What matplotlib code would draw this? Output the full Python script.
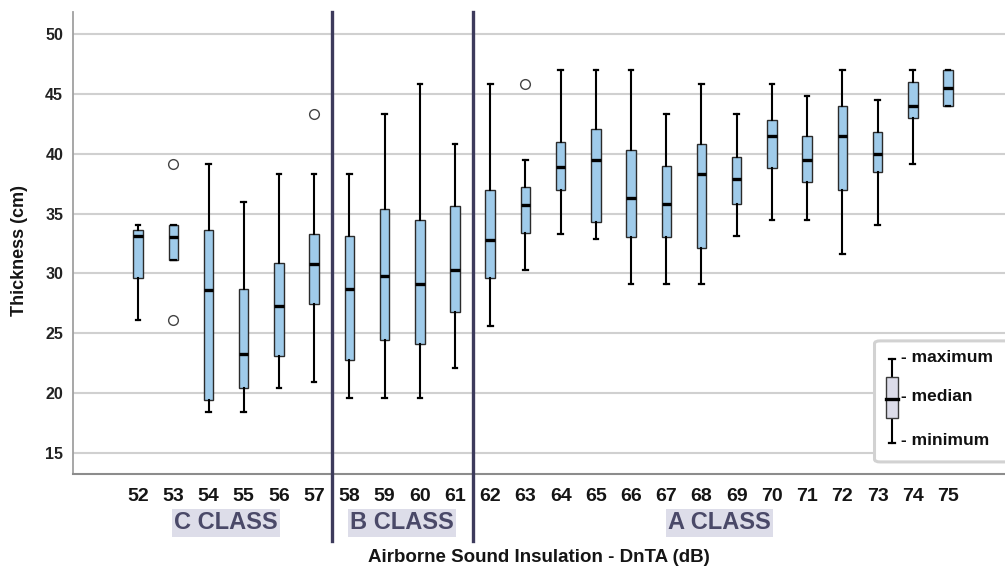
import matplotlib
matplotlib.use("Agg")
import matplotlib.pyplot as plt
from matplotlib.patches import Rectangle, FancyBboxPatch
from matplotlib.lines import Line2D

plt.rcParams['font.family'] = ['Liberation Sans', 'DejaVu Sans']

# --- data (thickness in cm per DnTA level) ---
levels = list(range(52, 76))
mins    = [26.1, 31.1, 18.4, 18.4, 20.4, 20.9, 19.6, 19.6, 19.6, 22.1, 25.6, 30.3,
           33.3, 32.9, 29.1, 29.1, 29.1, 33.1, 34.5, 34.5, 31.6, 34.0, 39.1, 44.0]
q1s     = [29.6, 31.1, 19.4, 20.4, 23.1, 27.4, 22.8, 24.4, 24.1, 26.8, 29.6, 33.4,
           37.0, 34.3, 33.0, 33.0, 32.1, 35.8, 38.8, 37.6, 37.0, 38.5, 43.0, 44.0]
medians = [33.1, 33.0, 28.6, 23.3, 27.3, 30.8, 28.7, 29.8, 29.1, 30.3, 32.8, 35.7,
           38.9, 39.5, 36.3, 35.8, 38.3, 37.9, 41.5, 39.5, 41.5, 40.0, 44.0, 45.5]
q3s     = [33.6, 34.0, 33.6, 28.7, 30.9, 33.3, 33.1, 35.4, 34.5, 35.6, 37.0, 37.2,
           41.0, 42.1, 40.3, 39.0, 40.8, 39.7, 42.8, 41.5, 44.0, 41.8, 46.0, 47.0]
maxs    = [34.0, 34.0, 39.1, 36.0, 38.3, 38.3, 38.3, 43.3, 45.8, 40.8, 45.8, 39.5,
           47.0, 47.0, 47.0, 43.3, 45.8, 43.3, 45.8, 44.8, 47.0, 44.5, 47.0, 47.0]
outliers = {53: [39.1, 26.1], 57: [43.3], 63: [45.8]}

class_names = ['C CLASS', 'B CLASS', 'A CLASS']
class_spans = [(52, 57), (58, 61), (62, 75)]
yticks = [15, 20, 25, 30, 35, 40, 45, 50]

box_blue = '#9fcbea'
sep_color = '#3d3b5c'

stats = []
for i, lv in enumerate(levels):
    stats.append({
        'med': medians[i], 'q1': q1s[i], 'q3': q3s[i],
        'whislo': mins[i], 'whishi': maxs[i],
        'fliers': outliers.get(lv, []),
    })

fig = plt.figure(figsize=(10.05, 5.71), dpi=100)
ax = fig.add_axes([0.0726, 0.170, 0.9274, 0.809])

ax.bxp(stats, positions=levels, widths=0.27, capwidths=0.13, patch_artist=True,
       boxprops=dict(facecolor=box_blue, edgecolor='#2b2b2b', linewidth=1.0),
       medianprops=dict(color='black', linewidth=2.4),
       whiskerprops=dict(color='black', linewidth=1.5),
       capprops=dict(color='black', linewidth=1.6),
       flierprops=dict(marker='o', markersize=7, markerfacecolor='white',
                       markeredgecolor='#444444', markeredgewidth=1.0),
       zorder=3)

ax.set_xlim(50.15, 76.62)
ax.set_ylim(13.24, 51.84)
ax.set_yticks(yticks)
ax.set_xticks(levels)
ax.set_xticklabels([str(v) for v in levels], fontsize=14, fontweight='bold',
                   color='#151515')
for lab in ax.get_yticklabels():
    lab.set_fontsize(11.5)
    lab.set_fontweight('bold')
    lab.set_color('#222222')
ax.tick_params(axis='both', length=0)
ax.tick_params(axis='x', pad=10)
ax.tick_params(axis='y', pad=7)

ax.yaxis.grid(True, color='#d0d0d0', linewidth=1.5)
ax.set_axisbelow(True)
for s in ['top', 'right']:
    ax.spines[s].set_visible(False)
ax.spines['left'].set_color('#a0a0a0')
ax.spines['bottom'].set_color('#8c8c8c')
ax.spines['left'].set_linewidth(1.3)
ax.spines['bottom'].set_linewidth(1.5)

# class separators (extend below the axis)
trans = ax.get_xaxis_transform()
for k in range(len(class_spans) - 1):
    xs = (class_spans[k][1] + class_spans[k + 1][0]) / 2
    ax.add_line(Line2D([xs, xs], [-0.145, 1.0], transform=trans, color=sep_color,
                       linewidth=2.4, clip_on=False, zorder=5))

# class labels
for name, (a, b) in zip(class_names, class_spans):
    ax.text((a + b) / 2, -0.106, name, transform=trans, ha='center', va='center',
            fontsize=17, fontweight='bold', color='#4a4968',
            bbox=dict(facecolor='#dddde9', edgecolor='none', pad=1.5))

ax.text(0.5, -0.18, 'Airborne Sound Insulation - DnTA (dB)', transform=ax.transAxes,
        ha='center', va='center', fontsize=13.5, fontweight='bold', color='#151515')
fig.text(20 / 1005, 1 - 250 / 571, 'Thickness (cm)', rotation=90,
         ha='center', va='center', fontsize=13, fontweight='bold', color='#151515')

# key box in the lower right corner
ax.add_patch(FancyBboxPatch((0.860, 0.026), 0.2, 0.262, transform=ax.transAxes,
                            boxstyle='round,pad=0.0,rounding_size=0.006',
                            facecolor='white', edgecolor='#d2d2d2', linewidth=2.2,
                            clip_on=False, zorder=6))
kx = 0.8787
ax.add_line(Line2D([kx, kx], [0.067, 0.249], transform=ax.transAxes, color='black',
                   linewidth=1.5, zorder=7))
for yy in [0.067, 0.249]:
    ax.add_line(Line2D([kx - 0.0035, kx + 0.0035], [yy, yy], transform=ax.transAxes,
                       color='black', linewidth=1.6, zorder=7))
ax.add_patch(Rectangle((kx - 0.0065, 0.121), 0.013, 0.089, transform=ax.transAxes,
                       facecolor='#dcdce9', edgecolor='#3a3a3a', linewidth=1.0,
                       zorder=8))
ax.add_line(Line2D([kx - 0.0065, kx + 0.0065], [0.162, 0.162], transform=ax.transAxes,
                   color='black', linewidth=2.4, zorder=9))
for txt, yy in [('- maximum', 0.253), ('- median', 0.167), ('- minimum', 0.073)]:
    ax.text(0.888, yy, txt, transform=ax.transAxes, ha='left', va='center',
            fontsize=12.5, fontweight='bold', color='#111111', zorder=9)

fig.savefig('out.png', dpi=100)
